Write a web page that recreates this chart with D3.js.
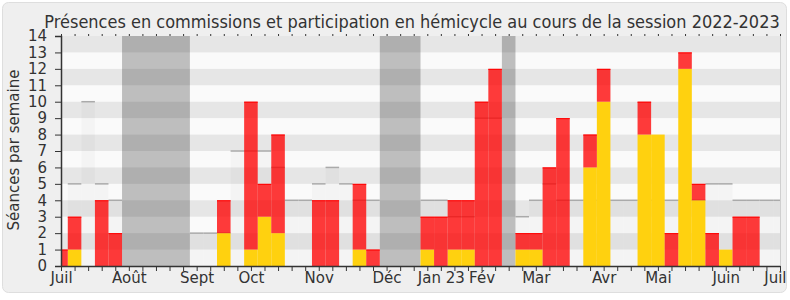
<!DOCTYPE html>
<html>
<head>
<meta charset="utf-8">
<script src="https://cdn.jsdelivr.net/npm/d3@7"></script>
<style>
body { margin: 0; background: #fff; }
svg { display: block; }
text { font-family: "DejaVu Sans", sans-serif; fill: #333; }
</style>
</head>
<body>
<svg id="chart" width="790" height="300"></svg>
<script>
// weekly values, week 0 = first week of July 2022
const weeks = d3.range(54);
const hemicycle = [0,1,0,0,0, 0,0,0,0,0, 0,0,2,0,1, 3,2,0,0,0, 0,0,1,0,0, 0,0,1,0,1, 1,0,0,0,1, 1,0,0,0,6, 10,0,0,8,8, 0,12,4,0,1, 0,0,0,0];
const commission = [1,2,0,4,2, 0,0,0,0,0, 0,0,2,0,9, 2,6,0,0,4, 4,0,4,1,0, 0,0,2,3,3, 3,10,12,0,1, 1,6,9,0,2, 2,0,0,2,0, 2,1,1,2,0, 3,3,0,0];
const median = [0,5,10,5,4, 0,0,0,0,0, 2,2,2,7,7, 7,6,4,4,5, 6,5,4,4,0, 0,0,4,4,3, 3,9,9,0,3, 4,5,4,4,4, 4,4,4,4,4, 4,4,4,5,5, 4,4,4,4];
// holidays (first and last week)
const vacStart = [5, 24, 33];
const vacEnd = [9, 26, 33];
const monthLabels = ["Juil","Août","Sept","Oct","Nov","Déc","Jan 23","Fév","Mar","Avr","Mai","Juin","Juil"];
const monthWeeks = [0, 5, 10, 14, 19, 24, 28, 31, 35, 40, 44, 49, 53];

const svg = d3.select("#chart");
const x = d3.scaleLinear().domain([0, 53]).range([61, 780]);
const y = d3.scaleLinear().domain([0, 14]).range([266, 36]);
const bw = x(1) - x(0);

// frame
svg.append("rect")
	.attr("x", 2.5).attr("y", 2.5)
	.attr("width", 784).attr("height", 290)
	.attr("rx", 6)
	.attr("fill", "#efefef")
	.attr("stroke", "#dedede");

svg.append("defs").append("clipPath").attr("id", "plotclip")
	.append("rect")
	.attr("x", x(0)).attr("y", y(14))
	.attr("width", x(53) - x(0)).attr("height", y(0) - y(14));

const plot = svg.append("g").attr("clip-path", "url(#plotclip)");

plot.append("rect")
	.attr("x", x(0)).attr("y", y(14))
	.attr("width", x(53) - x(0)).attr("height", y(0) - y(14))
	.attr("fill", "#fafafa");

// holidays
plot.selectAll(".vac")
	.data(vacStart)
	.enter().append("rect")
	.attr("class", "vac")
	.attr("x", function(d) { return x(d - 0.5); })
	.attr("y", y(14))
	.attr("width", function(d, i) { return x(vacEnd[i] + 0.5) - x(d - 0.5); })
	.attr("height", y(0) - y(14))
	.attr("fill", "#bebebe");

// alternating bands
plot.selectAll(".band")
	.data(d3.range(1, 14, 2))
	.enter().append("rect")
	.attr("class", "band")
	.attr("x", x(0))
	.attr("y", function(d) { return y(d + 1); })
	.attr("width", x(53) - x(0))
	.attr("height", function(d) { return y(d) - y(d + 1); })
	.attr("fill", "rgba(0,0,0,0.08)");

// median of all deputies
const medWeeks = weeks.filter(function(i) { return median[i] > 0; });
plot.selectAll(".med")
	.data(medWeeks)
	.enter().append("rect")
	.attr("class", "med")
	.attr("x", function(i) { return x(i - 0.5); })
	.attr("y", function(i) { return y(median[i]); })
	.attr("width", bw)
	.attr("height", function(i) { return y(0) - y(median[i]); })
	.attr("fill", "rgba(0,0,0,0.025)");
plot.selectAll(".medline")
	.data(medWeeks)
	.enter().append("line")
	.attr("class", "medline")
	.attr("x1", function(i) { return x(i - 0.5); })
	.attr("x2", function(i) { return x(i + 0.5); })
	.attr("y1", function(i) { return y(median[i]); })
	.attr("y2", function(i) { return y(median[i]); })
	.attr("stroke", "#aaa")
	.attr("stroke-width", 1.5);

// stacked bars
const rows = weeks.map(function(i) { return { week: i, hemicycle: hemicycle[i], commission: commission[i] }; });
const series = d3.stack().keys(["hemicycle", "commission"])(rows);
const colors = { hemicycle: "#ffd10f", commission: "#ff0000" };
const opac = { hemicycle: 1, commission: 0.77 };

series.forEach(function(s) {
	const g = plot.append("g");
	const data = s.filter(function(d) { return d[1] > d[0]; });
	g.selectAll("rect")
		.data(data)
		.enter().append("rect")
		.attr("x", function(d) { return x(d.data.week - 0.5); })
		.attr("y", function(d) { return y(d[1]); })
		.attr("width", bw)
		.attr("height", function(d) { return y(d[0]) - y(d[1]); })
		.attr("fill", colors[s.key])
		.attr("fill-opacity", opac[s.key]);
	if (s.key === "commission") {
		g.selectAll("line")
			.data(data)
			.enter().append("line")
			.attr("x1", function(d) { return x(d.data.week - 0.5); })
			.attr("x2", function(d) { return x(d.data.week + 0.5); })
			.attr("y1", function(d) { return y(d[1]) + 0.5; })
			.attr("y2", function(d) { return y(d[1]) + 0.5; })
			.attr("stroke", "#ff0000")
			.attr("stroke-width", 1);
	}
});

// right edge
svg.append("line")
	.attr("x1", x(53) + 0.5).attr("x2", x(53) + 0.5)
	.attr("y1", y(14)).attr("y2", y(0))
	.attr("stroke", "#d0d0d0");

// axes
const yAxis = svg.append("g")
	.attr("transform", "translate(" + x(0) + ",0)")
	.call(d3.axisLeft(y).ticks(14).tickSize(6).tickPadding(8));

const xAxis = svg.append("g")
	.attr("transform", "translate(0," + y(0) + ")")
	.call(d3.axisBottom(x)
		.tickValues(weeks)
		.tickSize(5)
		.tickSizeOuter(0)
		.tickPadding(1)
		.tickFormat(function(i) {
			const k = monthWeeks.indexOf(i);
			return k >= 0 ? monthLabels[k] : "";
		}));
// last label sits at the frame edge
xAxis.selectAll(".tick text").filter(function(i) { return i === 53; })
	.attr("text-anchor", "end").attr("dx", 6);

const topTicks = svg.append("g")
	.attr("transform", "translate(0," + y(14) + ")")
	.call(d3.axisTop(x).tickValues(weeks).tickSize(2).tickFormat(""));
topTicks.select(".domain").remove();

svg.selectAll(".tick line").attr("stroke", "#333");
svg.selectAll(".domain").attr("stroke", "#333").attr("stroke-width", 1.5);
svg.selectAll(".tick text").style("font-size", "15px").attr("fill", "#333");

// titles
const title = svg.append("text")
	.attr("text-anchor", "middle")
	.style("font-size", "17px")
	.text("Présences en commissions et participation en hémicycle au cours de la session 2022-2023");
const sx = Math.min(1, 736 / title.node().getComputedTextLength());
title.attr("transform", "translate(412,28) scale(" + sx + ",1)");

svg.append("text")
	.attr("transform", "translate(19,150) rotate(-90)")
	.attr("text-anchor", "middle")
	.style("font-size", "15px")
	.text("Séances par semaine");
</script>
</body>
</html>
